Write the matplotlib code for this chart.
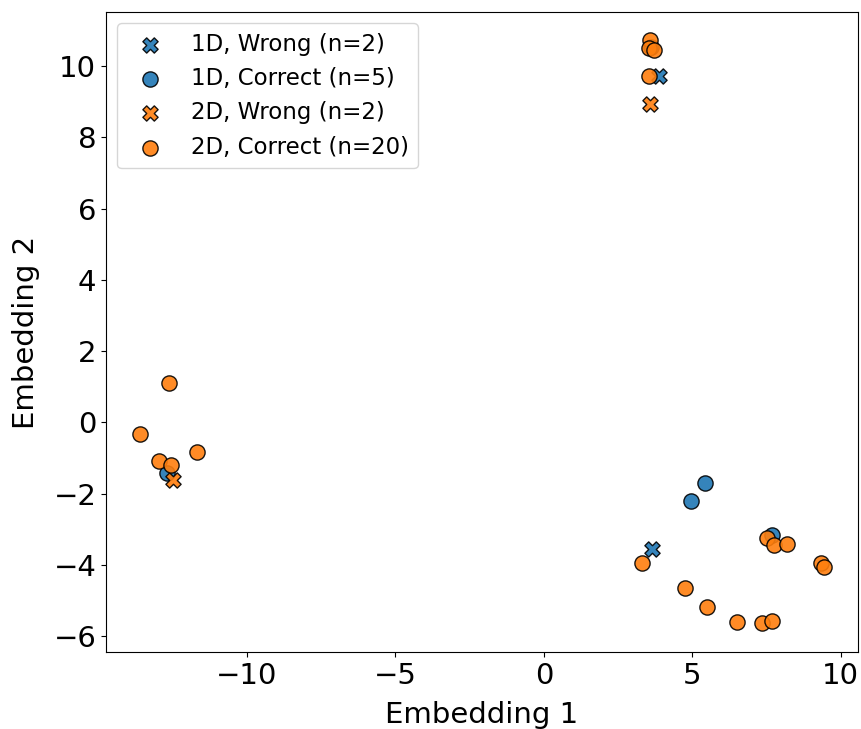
import numpy as np
import matplotlib
matplotlib.use("Agg")
import matplotlib.pyplot as plt

# 1D, wrong
x_1d_wrong = [3.87, 3.63]
y_1d_wrong = [9.72, -3.57]

# 1D, correct
x_1d_correct = [3.60, -12.70, 5.44, 4.97, 7.70]
y_1d_correct = [10.55, -1.43, -1.71, -2.21, -3.16]

# 2D, wrong
x_2d_wrong = [3.57, -12.48]
y_2d_wrong = [8.93, -1.62]

# 2D, correct
x_2d_correct = [3.57, 3.54, 3.70, 3.54,
                -12.62, -13.60, -11.67, -12.96, -12.56,
                7.53, 7.74, 8.20, 9.35, 9.44, 3.29, 4.75, 5.48, 6.49, 7.34, 7.69]
y_2d_correct = [10.73, 10.50, 10.45, 9.72,
                1.11, -0.33, -0.84, -1.08, -1.21,
                -3.26, -3.45, -3.43, -3.96, -4.07, -3.94, -4.64, -5.18, -5.62, -5.64, -5.58]

labels = ["1D, Wrong (n=2)", "1D, Correct (n=5)", "2D, Wrong (n=2)", "2D, Correct (n=20)"]

fig = plt.figure(figsize=(8.62, 7.29), dpi=100)
ax = fig.add_axes([0.123, 0.1056, 0.872, 0.878])

blue = "#1f77b4"
orange = "#ff7f0e"
kw = dict(s=120, edgecolor="black", linewidth=1.0, alpha=0.9)
ax.scatter(x_1d_wrong, y_1d_wrong, marker="X", color=blue, label=labels[0], **kw)
ax.scatter(x_1d_correct, y_1d_correct, marker="o", color=blue, label=labels[1], **kw)
ax.scatter(x_2d_wrong, y_2d_wrong, marker="X", color=orange, label=labels[2], **kw)
ax.scatter(x_2d_correct, y_2d_correct, marker="o", color=orange, label=labels[3], **kw)

ax.set_xlim(-14.75, 10.57)
ax.set_ylim(-6.45, 11.52)
ax.set_xticks([-10, -5, 0, 5, 10])
ax.set_yticks(np.arange(-6, 11, 2))
ax.tick_params(labelsize=21)
ax.set_xlabel("Embedding 1", fontsize=21, labelpad=8)
ax.set_ylabel("Embedding 2", fontsize=21, labelpad=10)
ax.legend(loc="upper left", fontsize=16.5)

plt.savefig("out.png", dpi=100)
